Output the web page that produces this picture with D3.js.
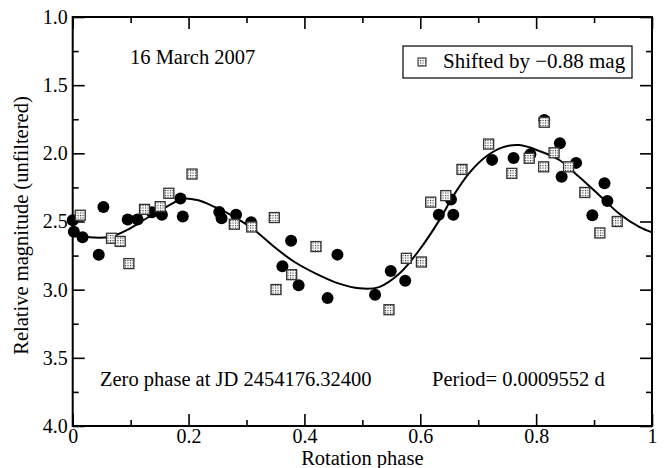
<!DOCTYPE html>
<html>
<head>
<meta charset="utf-8">
<script src="https://cdn.jsdelivr.net/npm/d3@7"></script>
<style>
  body { margin: 0; background: #fff; }
  text { font-family: "Liberation Serif", "Times New Roman", serif; fill: #000; }
</style>
</head>
<body>
<div id="chart"></div>
<script>
// observed points (filled circles)
var circlePhase = [0.000, 0.002, 0.017, 0.045, 0.053, 0.095, 0.112, 0.137, 0.154, 0.186, 0.190,
                   0.253, 0.257, 0.282, 0.308, 0.362, 0.377, 0.390, 0.440, 0.457, 0.522, 0.549,
                   0.574, 0.632, 0.653, 0.657, 0.724, 0.761, 0.790, 0.814, 0.841, 0.844, 0.869,
                   0.897, 0.918, 0.923];
var circleMag   = [2.49, 2.576, 2.615, 2.744, 2.393, 2.485, 2.485, 2.432, 2.451, 2.331, 2.463,
                   2.43, 2.477, 2.451, 2.505, 2.829, 2.641, 2.967, 3.062, 2.743, 3.038, 2.863,
                   2.935, 2.45, 2.338, 2.45, 2.048, 2.035, 2.007, 1.755, 1.926, 2.172, 2.07,
                   2.454, 2.22, 2.349];

// shifted points (dotted squares)
var squarePhase = [0.013, 0.067, 0.082, 0.097, 0.124, 0.151, 0.166, 0.206, 0.279, 0.309,
                   0.348, 0.351, 0.378, 0.420, 0.546, 0.576, 0.602, 0.618, 0.644, 0.672,
                   0.718, 0.758, 0.788, 0.813, 0.814, 0.831, 0.856, 0.884, 0.910, 0.940];
var squareMag   = [2.454, 2.623, 2.646, 2.809, 2.411, 2.391, 2.293, 2.152, 2.52, 2.54,
                   2.471, 2.999, 2.89, 2.684, 3.147, 2.77, 2.797, 2.358, 2.31, 2.118,
                   1.932, 2.147, 2.036, 2.099, 1.772, 1.996, 2.099, 2.287, 2.584, 2.5];

// fitted light curve
var fitPhase = [0.0, 0.029, 0.064, 0.093, 0.127, 0.167, 0.19, 0.215, 0.245, 0.279, 0.314,
                0.348, 0.383, 0.426, 0.46, 0.495, 0.529, 0.564, 0.598, 0.633, 0.656, 0.684,
                0.713, 0.742, 0.771, 0.805, 0.84, 0.874, 0.909, 0.943, 0.978, 1.0];
var fitMag   = [2.59, 2.615, 2.612, 2.564, 2.478, 2.38, 2.333, 2.343, 2.393, 2.466, 2.564,
                2.687, 2.797, 2.895, 2.956, 2.99, 2.981, 2.882, 2.711, 2.49, 2.319, 2.147,
                2.025, 1.956, 1.939, 1.982, 2.049, 2.172, 2.307, 2.441, 2.54, 2.58];

var xTicks = [0, 0.2, 0.4, 0.6, 0.8, 1];
var xTickLabels = ["0", "0.2", "0.4", "0.6", "0.8", "1"];
var xMinor = [0.1, 0.3, 0.5, 0.7, 0.9];
var yTicks = [1.0, 1.5, 2.0, 2.5, 3.0, 3.5, 4.0];
var yMinor = [1.25, 1.75, 2.25, 2.75, 3.25, 3.75];

var W = 666, H = 468;
var pL = 72.7, pR = 652, pT = 17, pB = 426;

var svg = d3.select("#chart").append("svg")
  .attr("width", W)
  .attr("height", H);

var x = d3.scaleLinear().domain([0, 1]).range([pL, pR]);
var y = d3.scaleLinear().domain([1, 4]).range([pT, pB]);

// dotted fill for the squares
var pat = svg.append("defs").append("pattern")
  .attr("id", "dots")
  .attr("patternUnits", "userSpaceOnUse")
  .attr("width", 2.5)
  .attr("height", 2.5);
pat.append("rect").attr("width", 2.5).attr("height", 2.5).attr("fill", "#fff");
pat.append("rect").attr("width", 1.1).attr("height", 1.1).attr("fill", "#222");

// axes: ticks point inward on all four sides
function addAxis(axis, tx, ty) {
  var g = svg.append("g")
    .attr("transform", "translate(" + tx + "," + ty + ")")
    .call(axis);
  g.select(".domain").remove();
  g.selectAll(".tick line").attr("stroke", "#000").attr("stroke-width", 1.6);
  g.selectAll("text")
    .style("font-family", '"Liberation Serif", "Times New Roman", serif')
    .style("font-size", "20px")
    .attr("fill", "#000");
  return g;
}

addAxis(d3.axisBottom(x).tickValues(xTicks).tickSize(-12).tickPadding(3)
  .tickFormat(function(d, i) { return xTickLabels[i]; }), 0, pB);
addAxis(d3.axisBottom(x).tickValues(xMinor).tickSize(-6).tickFormat(""), 0, pB);
addAxis(d3.axisTop(x).tickValues(xTicks).tickSize(-12).tickFormat(""), 0, pT);
addAxis(d3.axisTop(x).tickValues(xMinor).tickSize(-6).tickFormat(""), 0, pT);

addAxis(d3.axisLeft(y).tickValues(yTicks).tickSize(-12).tickPadding(5)
  .tickFormat(d3.format(".1f")), pL, 0);
addAxis(d3.axisLeft(y).tickValues(yMinor).tickSize(-6).tickFormat(""), pL, 0);
addAxis(d3.axisRight(y).tickValues(yTicks).tickSize(-12).tickFormat(""), pR, 0);
addAxis(d3.axisRight(y).tickValues(yMinor).tickSize(-6).tickFormat(""), pR, 0);

// frame
svg.append("rect")
  .attr("x", pL)
  .attr("y", pT)
  .attr("width", pR - pL)
  .attr("height", pB - pT)
  .attr("fill", "none")
  .attr("stroke", "#000")
  .attr("stroke-width", 2);

// fit line
var fit = fitPhase.map(function(p, i) { return [p, fitMag[i]]; });
svg.append("path")
  .datum(fit)
  .attr("fill", "none")
  .attr("stroke", "#000")
  .attr("stroke-width", 2)
  .attr("d", d3.line()
    .curve(d3.curveCatmullRom)
    .x(function(d) { return x(d[0]); })
    .y(function(d) { return y(d[1]); }));

// filled circles
svg.append("g")
  .selectAll("circle")
  .data(circlePhase.map(function(p, i) { return [p, circleMag[i]]; }))
  .enter()
  .append("circle")
    .attr("cx", function(d) { return x(d[0]); })
    .attr("cy", function(d) { return y(d[1]); })
    .attr("r", 6)
    .attr("fill", "#000");

// dotted squares
var s = 10;
svg.append("g")
  .selectAll("rect")
  .data(squarePhase.map(function(p, i) { return [p, squareMag[i]]; }))
  .enter()
  .append("rect")
    .attr("x", function(d) { return x(d[0]) - s / 2; })
    .attr("y", function(d) { return y(d[1]) - s / 2; })
    .attr("width", s)
    .attr("height", s)
    .attr("fill", "url(#dots)")
    .attr("stroke", "#333")
    .attr("stroke-width", 1.3);

// legend
svg.append("rect")
  .attr("x", 403).attr("y", 46)
  .attr("width", 229).attr("height", 32)
  .attr("fill", "#fff")
  .attr("stroke", "#000")
  .attr("stroke-width", 1.2);
svg.append("rect")
  .attr("x", 418).attr("y", 58)
  .attr("width", 8).attr("height", 8)
  .attr("fill", "url(#dots)")
  .attr("stroke", "#333")
  .attr("stroke-width", 1.1);
svg.append("text")
  .attr("x", 443).attr("y", 68)
  .style("font-size", "21px")
  .text("Shifted by \u22120.88 mag");

// annotations
svg.append("text")
  .attr("x", 130).attr("y", 64)
  .style("font-size", "20.5px")
  .text("16 March 2007");
svg.append("text")
  .attr("x", 100).attr("y", 386)
  .style("font-size", "20.5px")
  .text("Zero phase at JD 2454176.32400");
svg.append("text")
  .attr("x", 432).attr("y", 386)
  .style("font-size", "20.5px")
  .text("Period= 0.0009552 d");

// axis titles
svg.append("text")
  .attr("x", (pL + pR) / 2).attr("y", 465)
  .attr("text-anchor", "middle")
  .style("font-size", "20.5px")
  .text("Rotation phase");
svg.append("text")
  .attr("transform", "translate(28," + ((pT + pB) / 2 + 4) + ") rotate(-90)")
  .attr("text-anchor", "middle")
  .style("font-size", "20.5px")
  .text("Relative magnitude (unfiltered)");
</script>
</body>
</html>
